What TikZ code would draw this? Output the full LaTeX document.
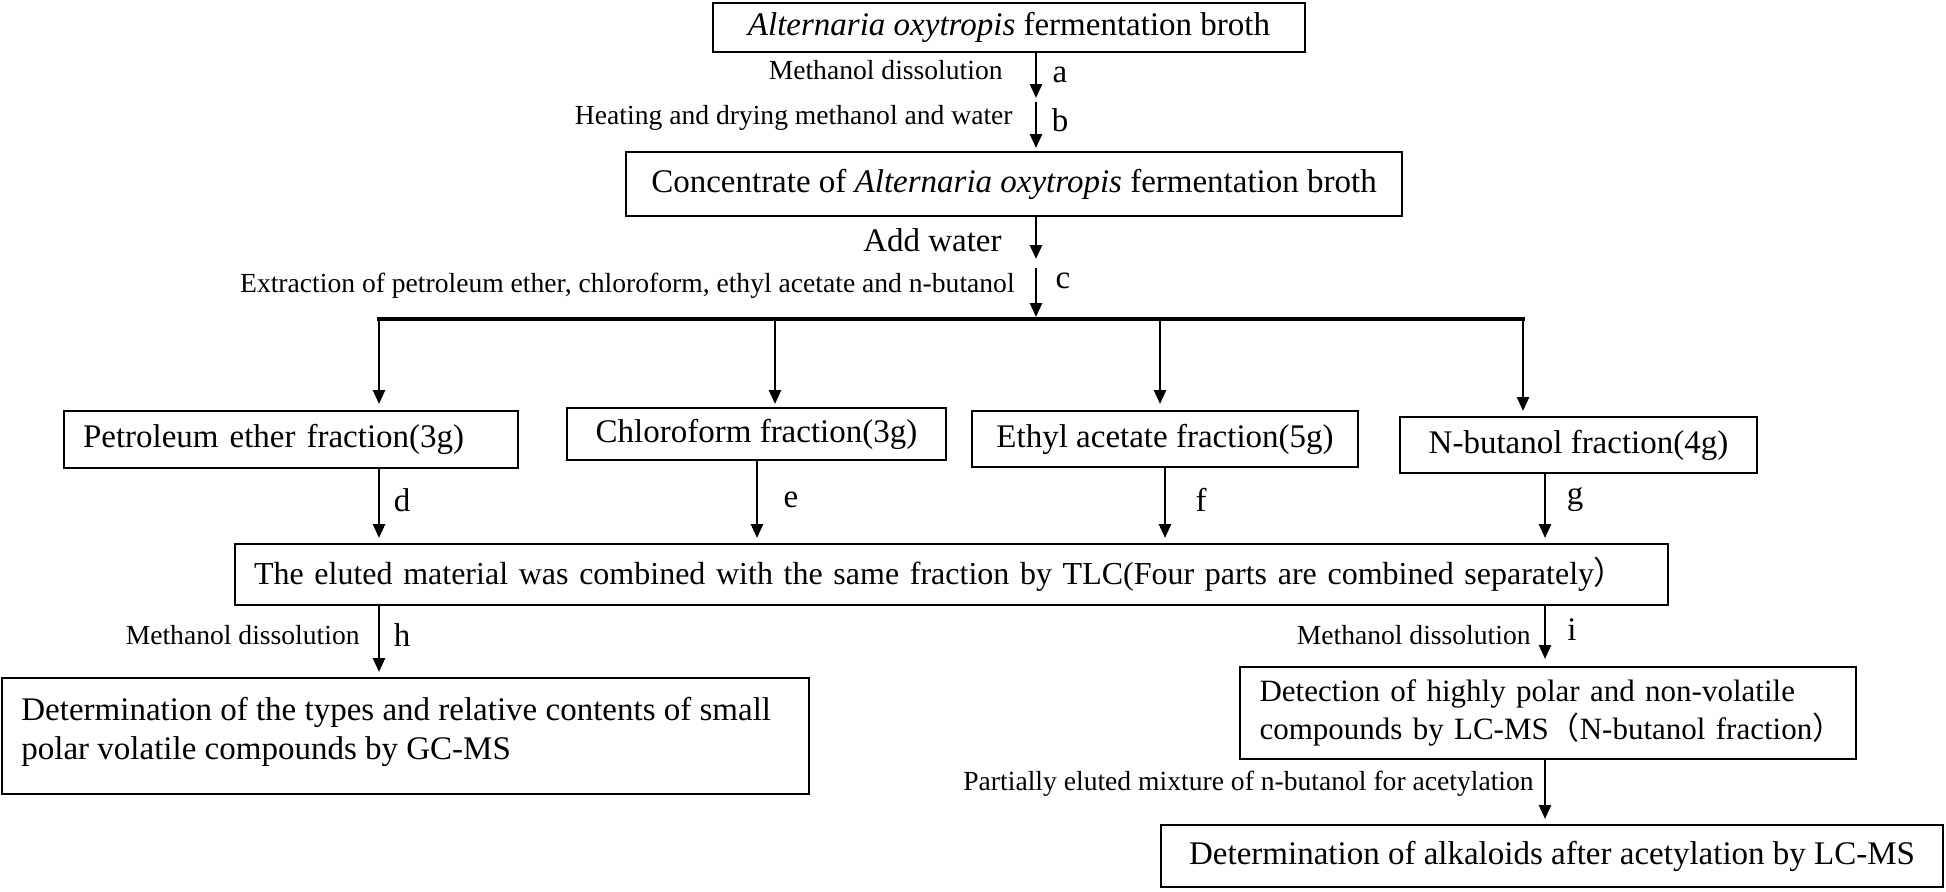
\documentclass[tikz,border=0pt]{standalone}
\usepackage{fontspec}
\setmainfont{Liberation Serif}
\newfontfamily\cjk{Noto Sans CJK SC}
\usetikzlibrary{arrows.meta}
\newcommand\boxfont{\fontsize{16.5}{19.5}\selectfont}
\newcommand\tlcfont{\fontsize{16}{19.5}\selectfont}
\newcommand\detfont{\fontsize{15.5}{19}\selectfont}
\newcommand\lblfont{\fontsize{13.8}{16}\selectfont}
\newcommand\ltrfont{\fontsize{16.5}{20}\selectfont}
\begin{document}
\begin{tikzpicture}[x=0.5pt,y=-0.5pt,
  box/.style={draw, line width=1pt, inner sep=0pt, font=\boxfont},
  lbl/.style={font=\lblfont, inner sep=0pt, anchor=east},
  ltr/.style={font=\ltrfont, inner sep=0pt},
  arr/.style={line width=1.3pt, -{Triangle[length=7pt,width=6pt]}},
  bar/.style={line width=2pt, line cap=rect}]
\useasboundingbox (0,0) rectangle (1946,891);
% boxes
\node[box, minimum width=296pt, minimum height=24.5pt] (top) at (1009,27.5) {\textit{Alternaria oxytropis} fermentation broth};
\node[box, minimum width=388pt, minimum height=32pt] (conc) at (1014,184) {Concentrate of \textit{Alternaria oxytropis} fermentation broth};
\node[box, minimum width=227pt, minimum height=28.5pt, text width=208pt, inner xsep=9.5pt, align=left] (pet) at (291,439.5) {Petroleum ether fraction(3g)};
\node[box, minimum width=189.5pt, minimum height=26pt] (chl) at (756.5,434) {Chloroform fraction(3g)};
\node[box, minimum width=193pt, minimum height=28pt] (eth) at (1165,439) {Ethyl acetate fraction(5g)};
\node[box, minimum width=178.5pt, minimum height=28pt] (nbu) at (1578.5,445) {N-butanol fraction(4g)};
\node[box, font=\tlcfont, minimum width=716.5pt, minimum height=30.5pt, text width=697.5pt, inner xsep=9.5pt, align=left] (tlc) at (951.5,574.5) {\mbox{The eluted material was combined with the same fraction by TLC(Four parts are combined separately{\cjk ）}}};
\node[box, minimum width=403.5pt, minimum height=58pt] (gc) at (405.5,736) {};
\node[font=\boxfont, anchor=north west, align=left, inner sep=0pt] (gct) at (21,697) {Determination of the types and relative contents of small\\polar volatile compounds by GC-MS};
\node[box, font=\detfont, minimum width=308pt, minimum height=46pt, text width=288.5pt, inner xsep=9.75pt, align=left] (det) at (1548,713) {\makebox[288.5pt][s]{Detection of highly polar and non-volatile}\\\makebox[288.5pt][l]{compounds by LC-MS{\cjk （}N-butanol fraction{\cjk ）}}};
\node[box, minimum width=391pt, minimum height=31pt] (fin) at (1552,856) {Determination of alkaloids after acetylation by LC-MS};
% coordinates
\coordinate (a1) at (1036,98);
\coordinate (b0) at (1036,102);
\coordinate (w1) at (1036,259);
\coordinate (c0) at (1036,268);
\coordinate (c1) at (1036,317);
\coordinate (barL) at (379,319);
\coordinate (br2) at (775,319);
\coordinate (br3) at (1160,319);
\coordinate (barR) at (1523,319);
\coordinate (xd) at (379,500);
\coordinate (xe) at (757,500);
\coordinate (xf) at (1165,500);
\coordinate (xg) at (1545,500);
% connectors
\draw[arr] (top.south -| a1) -- (a1);
\draw[arr, shorten >=1.5pt] (b0) -- (b0 |- conc.north);
\draw[arr] (conc.south -| w1) -- (w1);
\draw[arr] (c0) -- (c1);
\draw[bar] (barL) -- (barR);
\draw[arr, shorten >=3pt] (barL) -- (barL |- pet.north);
\draw[arr, shorten >=1.5pt] (br2) -- (br2 |- chl.north);
\draw[arr, shorten >=3pt] (br3) -- (br3 |- eth.north);
\draw[arr, shorten >=2.5pt] (barR) -- (barR |- nbu.north);
\draw[arr, shorten >=2.5pt] (pet.south -| xd) -- (tlc.north -| xd);
\draw[arr, shorten >=2.5pt] (chl.south -| xe) -- (tlc.north -| xe);
\draw[arr, shorten >=2.5pt] (eth.south -| xf) -- (tlc.north -| xf);
\draw[arr, shorten >=2.5pt] (nbu.south -| xg) -- (tlc.north -| xg);
\draw[arr, shorten >=2.5pt] (tlc.south -| xd) -- (gc.north -| xd);
\draw[arr, shorten >=3.5pt] (tlc.south -| xg) -- (det.north -| xg);
\draw[arr, shorten >=2.5pt] (det.south -| xg) -- (fin.north -| xg);
% labels
\node[lbl] (la) at (1003,70) {Methanol dissolution};
\node[ltr] (ta) at (1060,75) {a};
\node[lbl] (lb) at (1013,118) {Heating and drying methanol and water};
\node[ltr] (tb) at (1060,120) {b};
\node[font=\boxfont, anchor=east, inner sep=0pt] (lw) at (1002,240) {Add water};
\node[lbl] (lc) at (1015,286) {Extraction of petroleum ether, chloroform, ethyl acetate and n-butanol};
\node[ltr] (tc) at (1063,281) {c};
\node[ltr] (td) at (402,500) {d};
\node[ltr] (te) at (791,500) {e};
\node[ltr] (tf) at (1201,500) {f};
\node[ltr] (tg) at (1575,500) {g};
\node[lbl] (lh) at (360,635) {Methanol dissolution};
\node[ltr] (th) at (402,635) {h};
\node[lbl] (li) at (1531,635) {Methanol dissolution};
\node[ltr] (ti) at (1572,630) {i};
\node[lbl] (lp) at (1534,784) {Partially eluted mixture of n-butanol for acetylation};
\end{tikzpicture}
\end{document}
